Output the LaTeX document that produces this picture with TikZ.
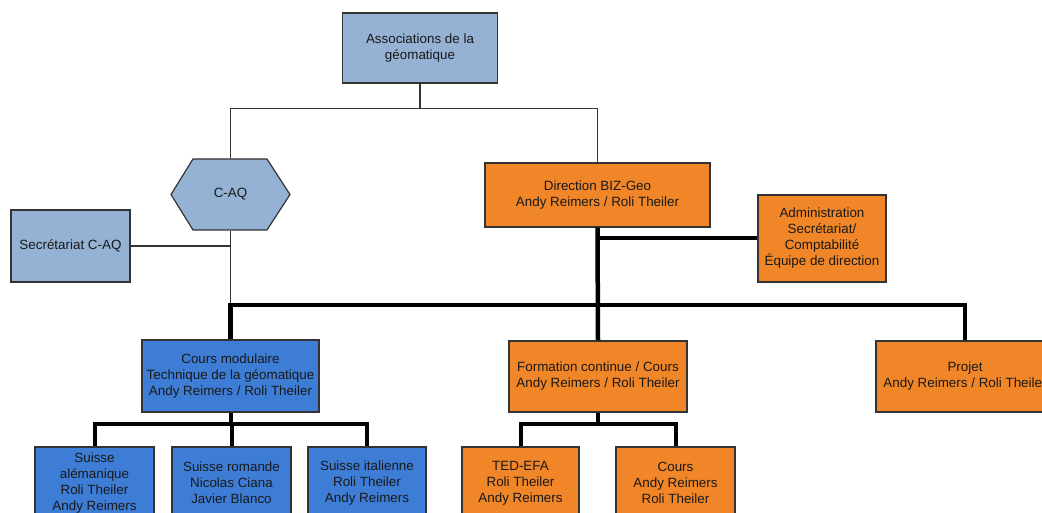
\documentclass[tikz,border=0pt]{standalone}
\usepackage{fontspec}
\setmainfont{Liberation Sans}
\definecolor{hellblau}{RGB}{149,178,213}
\definecolor{kursblau}{RGB}{62,125,214}
\definecolor{bizorange}{RGB}{240,134,40}
\tikzset{
  box/.style={draw=black!80, line width=1.2pt, align=center, inner sep=0pt,
    font=\fontsize{13.4}{16}\selectfont, text=black!90},
  thinline/.style={draw=black!80, line width=1.5pt},
  thickline/.style={draw=black, line width=4.5pt},
  branchline/.style={draw=black, line width=4pt},
}
\begin{document}
\begin{tikzpicture}[x=1pt,y=-1pt]
  \useasboundingbox (0,0) rectangle (1042,513);
  \clip (0,0) rectangle (1042,513);
  % 団体
  \node[box, fill=hellblau, minimum width=155pt, minimum height=70pt] (assoc) at (420,48) {Associations de la\\géomatique};
  % C-AQ の六角形
  \filldraw[fill=hellblau, draw=black!80, line width=1.2pt] (171,194.5) -- (193,159) -- (267,159) -- (290,194.5) -- (267,230) -- (193,230) -- cycle;
  \node[box, draw=none, minimum width=119pt, minimum height=71pt] (caq) at (230.5,194.5) {C-AQ};
  \node[box, fill=hellblau, minimum width=119pt, minimum height=72pt] (sec) at (70.5,246) {Secrétariat C-AQ};
  % BIZ-Geo
  \node[box, fill=bizorange, minimum width=225pt, minimum height=64pt] (dir) at (597.5,195) {Direction BIZ-Geo\\Andy Reimers / Roli Theiler};
  \node[box, fill=bizorange, minimum width=128pt, minimum height=87pt] (admin) at (822,238.5) {Administration\\Secrétariat/\\Comptabilité\\Équipe de direction};
  % 二段目
  \node[box, fill=kursblau, minimum width=177pt, minimum height=72pt] (cmod) at (230.5,376) {Cours modulaire\\Technique de la géomatique\\Andy Reimers / Roli Theiler};
  \node[box, fill=bizorange, minimum width=178pt, minimum height=71pt] (form) at (598,376.5) {Formation continue / Cours\\Andy Reimers / Roli Theiler};
  \node[box, fill=bizorange, minimum width=178pt, minimum height=71pt] (projet) at (965,376.5) {Projet\\Andy Reimers / Roli Theiler};
  % 三段目
  \node[box, fill=kursblau, minimum width=119pt, minimum height=72pt] (ale) at (94.5,483) {Suisse\\alémanique\\Roli Theiler\\Andy Reimers};
  \node[box, fill=kursblau, minimum width=119pt, minimum height=72pt] (rom) at (231.5,483) {Suisse romande\\Nicolas Ciana\\Javier Blanco};
  \node[box, fill=kursblau, minimum width=118pt, minimum height=72pt] (ita) at (367,483) {Suisse italienne\\Roli Theiler\\Andy Reimers};
  \node[box, fill=bizorange, minimum width=117pt, minimum height=72pt] (ted) at (520.5,483) {TED-EFA\\Roli Theiler\\Andy Reimers};
  \node[box, fill=bizorange, minimum width=119pt, minimum height=72pt] (cours) at (675.5,483) {Cours\\Andy Reimers\\Roli Theiler};
  % 細い線
  \draw[thinline] (assoc.south) -- ++(0,25) coordinate (top);
  \draw[thinline] (top) -| (caq.north);
  \draw[thinline] (top) -| (dir.north);
  \draw[thinline] (sec.east) -- (sec.east -| caq.south);
  \coordinate (bus) at (598,305);
  \draw[thinline] (caq.south) -- (caq.south |- bus);
  % 太い線
  \draw[thickline] (dir.south) -- (form.north);
  \draw[thickline] (cmod.north) |- (bus) -| (projet.north);
  \draw[branchline] (dir.south |- admin.west) -- (admin.west);
  \draw[branchline] (cmod.south) -- ++(0,11) coordinate (cfork);
  \foreach \n in {ale,rom,ita} \draw[branchline] (cfork) -| (\n.north);
  \draw[branchline] (form.south) -- ++(0,11) coordinate (ffork);
  \foreach \n in {ted,cours} \draw[branchline] (ffork) -| (\n.north);
\end{tikzpicture}
\end{document}
